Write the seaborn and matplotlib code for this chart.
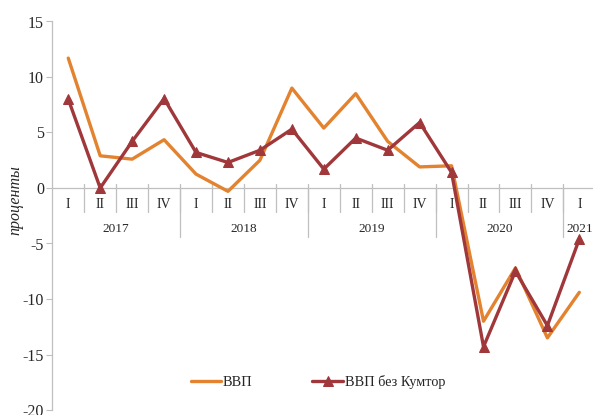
"""GDP growth by quarter, with and without Kumtor."""
import matplotlib.pyplot as plt
import pandas as pd
import seaborn as sns

quarters = ["I", "II", "III", "IV", "I", "II", "III", "IV", "I", "II", "III", "IV",
            "I", "II", "III", "IV", "I"]
years = ["2017", "2018", "2019", "2020", "2021"]
year_sizes = [4, 4, 4, 4, 1]
gdp = [11.7, 2.9, 2.6, 4.35, 1.25, -0.3, 2.5, 9.0, 5.4, 8.5, 4.2, 1.9, 2.0,
       -12.0, -7.2, -13.5, -9.4]
gdp_ex_kumtor = [8.0, 0.0, 4.2, 8.05, 3.2, 2.3, 3.4, 5.3, 1.7, 4.5, 3.4, 5.9, 1.4,
                 -14.3, -7.5, -12.4, -4.6]

sns.set_style("white")
plt.rcParams["font.family"] = ["Liberation Serif", "DejaVu Serif"]
plt.rcParams["axes.unicode_minus"] = False

df = pd.DataFrame({"idx": range(len(quarters)), "gdp": gdp, "ex": gdp_ex_kumtor})

fig = plt.figure(figsize=(5.93, 4.15), dpi=100)
ax = fig.add_axes([52.3 / 593, 5 / 415, 543 / 593, 388.5 / 415])

orange = "#E3822F"
red = "#A0373A"
sns.lineplot(data=df, x="idx", y="gdp", color=orange, lw=2.4, ax=ax,
             label="ВВП", sort=False)
sns.lineplot(data=df, x="idx", y="ex", color=red, lw=2.4, ax=ax,
             marker="^", markersize=7, markeredgecolor=red,
             label="ВВП без Кумтор", sort=False)

ax.set_xlim(-0.5, len(quarters) - 0.5)
ax.set_ylim(-20, 15)
ax.set_yticks(range(-20, 16, 5))
ax.set_xticks([])
ax.set_xlabel("")
ax.set_ylabel("проценты", fontsize=11.5, style="italic")
ax.yaxis.set_label_coords(-0.053, 0.54)
ax.tick_params(axis="y", left=True, length=4, width=0.8, color="#BFBFBF",
               labelsize=11.5, pad=2)
for s in ["top", "right", "bottom"]:
    ax.spines[s].set_visible(False)
ax.spines["left"].set_color("#BFBFBF")
ax.spines["left"].set_linewidth(0.9)

# category axis at zero
ax.axhline(0, color="#BFBFBF", lw=0.9, zorder=0)
for i, q in enumerate(quarters):
    ax.text(i, -1.45, q, ha="center", va="center", fontsize=10)
    if i > 0:
        ax.plot([i - 0.5, i - 0.5], [0.35, -2.15], color="#BFBFBF", lw=0.9,
                zorder=0)
start = 0
for y, n in zip(years, year_sizes):
    ax.text(start + (n - 1) / 2, -3.7, y, ha="center", va="center", fontsize=9.5)
    start += n
    if start < len(quarters):
        ax.plot([start - 0.5, start - 0.5], [0, -4.4], color="#BFBFBF", lw=0.9,
                zorder=0)

ax.legend(loc="center", bbox_to_anchor=(0.489, 0.072), ncol=2, frameon=False,
          fontsize=10.3, handlelength=2.1, handletextpad=0.15, columnspacing=4.2)

fig.savefig("out.png", dpi=100)
